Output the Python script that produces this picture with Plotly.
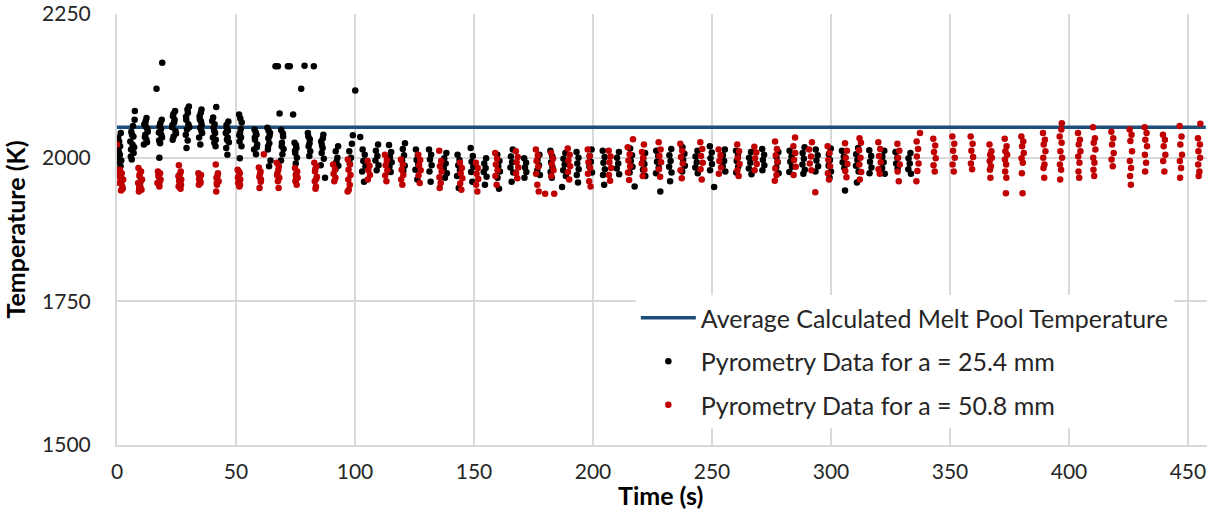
import plotly.graph_objects as go

# ---------------- data ----------------
# Average calculated melt pool temperature (horizontal reference line)
avg_time = [0.0, 457.5]
avg_temp = [2053, 2053]

# Pyrometry data for a = 25.4 mm (black), one inner list per measurement burst
black_time = [
    [1.6, 0.9, 0.4, 1.2, 0.2, 0.7, 1.5, 0.3, 0.9, 0.5, 1.3, 0.8, 1.8],
    [7.5, 7.4, 6.0, 6.9, 5.6, 6.5, 5.9, 7.0, 6.2, 6.7, 6.3, 7.2, 5.8],
    [12.4, 11.5, 12.8, 11.9, 12.3, 11.3, 12.9, 12.0, 11.7, 12.6, 12.2],
    [18.8, 17.9, 18.5, 17.6, 18.9, 18.1, 17.8, 16.6, 19.0, 18.2, 18.6, 17.7],
    [24.4, 23.5, 24.0, 23.2, 24.6, 23.8, 23.4, 23.7, 24.2, 23.3, 24.8],
    [30.2, 29.8, 29.1, 30.0, 29.4, 28.9, 29.7, 29.2, 29.6, 29.0, 30.4],
    [35.5, 34.7, 35.3, 34.9, 35.8, 34.5, 35.0, 35.2, 34.8, 35.6, 35.4],
    [41.7, 40.0, 40.6, 41.2, 40.3, 40.9, 41.4, 40.4, 41.0, 40.8, 41.5],
    [46.8, 46.1, 45.7, 46.5, 47.0, 45.9, 46.4, 46.0, 46.6, 46.2],
    [51.3, 52.4, 51.7, 52.1, 51.5, 52.3, 51.6, 51.8, 52.0, 51.4],
    [57.8, 58.6, 58.0, 58.9, 57.6, 58.4, 58.3, 57.9, 58.7],
    [63.2, 64.3, 63.6, 64.0, 63.4, 64.5, 63.9, 63.7, 64.1, 63.5],
    [69.0, 69.8, 69.3, 70.0, 69.5, 68.9, 68.3, 66.6, 67.6, 69.7, 69.2],
    [74.6, 75.4, 74.9, 75.6, 75.1, 74.0, 71.8, 72.6, 75.2, 74.8],
    [80.2, 81.0, 80.5, 81.2, 80.8, 78.8, 77.4, 80.4, 80.9],
    [86.7, 85.8, 86.4, 86.0, 86.9, 85.6, 87.4, 82.7, 86.5, 86.1],
    [92.9, 91.9, 92.6, 92.2, 93.0, 91.8],
    [99.1, 102.2, 98.7, 97.6, 98.3, 97.8, 100.1],
    [103.2, 104.1, 103.5, 104.4, 103.0, 103.8],
    [109.7, 108.8, 109.4, 108.6, 109.9, 109.1],
    [114.3, 115.2, 114.7, 115.4, 114.5, 115.0],
    [121.0, 120.1, 120.6, 119.8, 120.9, 120.3],
    [125.6, 126.4, 125.9, 126.6, 125.4, 126.2],
    [131.1, 132.0, 131.5, 132.2, 131.3, 131.8],
    [138.4, 137.5, 138.1, 137.3, 138.6, 137.8],
    [143.1, 143.9, 143.4, 144.1, 142.9, 143.6],
    [148.6, 149.5, 149.0, 149.7, 148.8, 149.3],
    [155.1, 154.3, 154.9, 154.1, 155.3, 154.6],
    [159.8, 160.7, 160.2, 160.9, 159.9, 160.5],
    [166.3, 165.5, 166.0, 165.3, 166.5, 165.8],
    [171.1, 171.9, 171.4, 172.0, 171.2],
    [177.5, 176.7, 177.3, 176.6, 177.7],
    [182.1, 182.9, 182.4, 183.0, 182.2, 182.7],
    [188.4, 187.6, 188.1, 187.5, 188.6, 187.0],
    [193.1, 193.9, 193.4, 194.0, 193.2, 193.7],
    [199.4, 198.6, 199.1, 198.5, 199.6],
    [204.1, 204.9, 204.4, 205.0, 204.2, 204.7],
    [210.9, 210.1, 210.6, 210.0, 211.0],
    [215.6, 216.4, 215.9, 216.6, 215.4, 217.5],
    [221.9, 221.1, 221.6, 221.0, 222.0],
    [226.6, 227.4, 226.9, 227.6, 226.5, 228.3],
    [232.9, 232.1, 232.6, 232.0, 233.0, 232.4],
    [237.6, 238.4, 237.9, 238.6, 237.5],
    [243.9, 243.1, 243.6, 243.0, 244.0],
    [249.1, 249.9, 249.4, 250.0, 249.2, 250.9],
    [255.4, 254.6, 255.1, 254.5, 255.6],
    [260.1, 260.9, 260.4, 261.0, 260.2],
    [266.4, 265.6, 266.1, 265.5, 266.6],
    [271.1, 271.9, 271.4, 272.0, 271.2],
    [277.9, 277.1, 277.6, 277.0, 278.0],
    [282.6, 283.4, 282.9, 283.6, 282.5],
    [288.9, 288.1, 288.6, 288.0, 289.0, 288.4],
    [293.6, 294.4, 293.9, 294.6, 293.5],
    [299.9, 299.1, 299.6, 299.0, 300.0, 299.4],
    [304.6, 305.4, 304.9, 305.6, 305.9],
    [311.4, 310.6, 311.1, 310.5, 311.6, 310.9],
    [316.1, 316.9, 316.4, 317.0, 316.2],
    [322.4, 321.6, 322.1, 321.5, 322.6],
    [327.1, 327.9, 327.4, 328.0],
    [333.4, 332.6, 333.1, 332.5, 333.6],
]
black_temp = [
    [2043, 2028, 2015, 2005, 1998, 1992, 1985, 1978, 1972, 2035, 2020, 2010, 1995],
    [2081, 2066, 2045, 2037, 2028, 2023, 2014, 2008, 1997, 2055, 2040, 2018, 2002],
    [2069, 2058, 2050, 2040, 2032, 2023, 2045, 2063, 2036, 2027, 2054],
    [2066, 2055, 2050, 2044, 2035, 2025, 2000, 2120, 2165, 2060, 2040, 2030],
    [2081, 2072, 2061, 2053, 2046, 2037, 2031, 2076, 2066, 2057, 2042],
    [2089, 2078, 2066, 2058, 2049, 2040, 2030, 2017, 2084, 2071, 2053],
    [2084, 2072, 2063, 2052, 2043, 2035, 2023, 2078, 2067, 2057, 2047],
    [2088, 2064, 2052, 2043, 2035, 2026, 2020, 2070, 2058, 2047, 2031],
    [2063, 2052, 2043, 2035, 2027, 2017, 2005, 2057, 2047, 2031],
    [2075, 2061, 2043, 2035, 2028, 2020, 1999, 2068, 2050, 2039],
    [2049, 2040, 2031, 2023, 2014, 2006, 2044, 2035, 2018],
    [2052, 2043, 2034, 2025, 2014, 1995, 1985, 2047, 2038, 2020],
    [2048, 2037, 2026, 2015, 2006, 1995, 2077, 2159, 2159, 2042, 2020],
    [2026, 2017, 2008, 2000, 1990, 2075, 2159, 2159, 2022, 2012],
    [2043, 2032, 2020, 2011, 2003, 2160, 2120, 2037, 2025],
    [2040, 2028, 2017, 2008, 1998, 1987, 1965, 2159, 2034, 2022],
    [2020, 2011, 2000, 1993, 1986, 1980],
    [2039, 2036, 2024, 2011, 2000, 1990, 2117],
    [2014, 2005, 1994, 1985, 1976, 1958],
    [2023, 2012, 2003, 1995, 1987, 1978],
    [2022, 2010, 2001, 1992, 1984, 1975],
    [2025, 2015, 2004, 1995, 1986, 1977],
    [2014, 2004, 1996, 1988, 1979, 1962],
    [2014, 2005, 1997, 1987, 1976, 1958],
    [2008, 1999, 1990, 1981, 1973, 1965],
    [2005, 1996, 1987, 1978, 1968, 1947],
    [2017, 2003, 1993, 1984, 1975, 1958],
    [1999, 1990, 1982, 1975, 1967, 1953],
    [2005, 1994, 1985, 1976, 1965, 1946],
    [2014, 2002, 1992, 1983, 1974, 1958],
    [1999, 1991, 1983, 1975, 1965],
    [2005, 1996, 1987, 1978, 1970],
    [2012, 2002, 1992, 1983, 1975, 1965],
    [2008, 1998, 1988, 1978, 1968, 1949],
    [2010, 2000, 1990, 1980, 1970, 1957],
    [2014, 2003, 1993, 1984, 1974],
    [2012, 2001, 1991, 1980, 1970, 1953],
    [2010, 2000, 1990, 1981, 1971],
    [2016, 2004, 1994, 1984, 1974, 1950],
    [2008, 1998, 1989, 1979, 1968],
    [2012, 2003, 1993, 1983, 1973, 1941],
    [2015, 2004, 1994, 1984, 1974, 1959],
    [2018, 2007, 1996, 1986, 1976],
    [2012, 2002, 1992, 1983, 1973],
    [2020, 2009, 1999, 1989, 1978, 1949],
    [2014, 2004, 1994, 1985, 1976],
    [2012, 2003, 1994, 1984, 1974],
    [2010, 2000, 1991, 1981, 1971],
    [2015, 2005, 1996, 1987, 1978],
    [2010, 2001, 1992, 1983, 1973],
    [2012, 2002, 1993, 1984, 1975],
    [2018, 2008, 1998, 1988, 1979, 1972],
    [2014, 2004, 1995, 1985, 1976],
    [2016, 2006, 1996, 1986, 1976, 1965],
    [2012, 2002, 1992, 1982, 1943],
    [2017, 2006, 1996, 1986, 1976, 1957],
    [2013, 2003, 1993, 1983, 1973],
    [2012, 2002, 1992, 1982, 1972],
    [2010, 2000, 1990, 1981],
    [2008, 1999, 1990, 1980, 1972],
]

# Pyrometry data for a = 50.8 mm (red)
red_time = [
    [0.0, 1.2, 2.0, 1.5, 2.6, 1.0, 2.2, 1.7, 1.0, 1.9, 2.4, 1.4],
    [9.0, 10.1, 9.4, 10.5, 8.9, 9.8, 10.3, 9.2, 9.6, 10.0, 9.3],
    [17.2, 18.1, 17.5, 18.3, 17.0, 17.8, 17.4, 18.0, 17.7],
    [26.0, 26.8, 25.8, 27.0, 26.4, 25.9, 26.7, 26.5, 26.1, 26.9],
    [34.2, 35.3, 34.6, 35.0, 34.4, 34.9, 34.5, 35.1],
    [41.5, 42.4, 41.8, 42.7, 42.0, 41.7, 42.2, 41.9],
    [50.7, 51.6, 51.0, 51.8, 50.9, 51.4, 51.2, 50.8, 51.7],
    [61.7, 59.6, 60.3, 59.8, 60.5, 59.9, 60.1, 60.4],
    [67.1, 68.0, 67.4, 68.2, 67.6, 67.9, 67.8, 67.3],
    [74.8, 75.7, 75.1, 75.9, 75.0, 75.5, 75.4, 75.2],
    [82.9, 83.8, 83.2, 84.0, 83.1, 83.6, 83.4, 83.3, 83.7],
    [90.8, 91.6, 91.0, 91.8, 91.3],
    [97.0, 97.9, 97.3, 98.1, 97.2, 97.8, 97.4, 96.9],
    [105.3, 106.1, 105.6, 106.3, 105.4],
    [112.6, 113.4, 112.9, 113.6, 112.7, 113.2],
    [119.3, 120.1, 119.6, 120.3, 119.4, 119.9],
    [126.6, 127.4, 126.9, 127.6, 126.7, 127.2],
    [135.4, 136.2, 135.7, 136.4, 135.5, 136.0, 135.6],
    [144.1, 144.9, 144.4, 145.1, 144.2, 144.7],
    [150.8, 151.6, 151.1, 151.8, 150.9, 151.4],
    [158.9, 159.7, 159.2, 159.9, 159.0, 159.5],
    [167.6, 168.4, 167.9, 168.6, 167.7, 168.2],
    [176.0, 176.8, 176.3, 177.0, 176.1, 176.6, 177.2, 179.9],
    [182.4, 183.2, 182.7, 183.4, 182.5, 183.7],
    [189.4, 190.2, 189.7, 190.4, 189.5, 190.0],
    [197.8, 198.6, 198.1, 198.8, 197.9, 198.4, 199.0],
    [206.6, 207.4, 206.9, 207.6, 206.7, 207.2],
    [216.8, 214.6, 215.4, 214.9, 215.6, 214.7, 215.2],
    [221.4, 220.6, 221.1, 220.5, 221.6, 220.9],
    [227.6, 228.4, 227.9, 228.6, 227.7, 228.2],
    [236.7, 237.5, 237.0, 237.7, 236.8, 237.3],
    [245.1, 245.9, 245.4, 246.1, 245.2, 245.7],
    [252.8, 253.6, 253.1, 253.8, 252.9],
    [260.6, 261.4, 260.9, 261.6, 260.7, 261.2],
    [267.8, 268.6, 268.1, 268.8, 267.9],
    [276.5, 277.3, 276.8, 277.5, 276.6, 277.1, 276.4],
    [284.9, 284.2, 285.0, 284.5, 285.2, 284.3],
    [292.0, 290.8, 291.6, 291.1, 291.8, 293.4],
    [298.6, 299.4, 298.9, 299.6, 298.7, 299.2],
    [305.9, 306.7, 306.2, 306.9, 306.0, 306.5],
    [312.0, 312.6, 311.8, 312.4, 311.9, 312.7, 312.1],
    [319.9, 320.7, 320.2, 320.9, 320.0, 320.5],
    [327.9, 328.7, 328.2, 328.9, 328.0, 328.5],
    [337.4, 336.0, 336.6, 336.1, 336.8, 336.3, 335.9],
    [343.0, 343.8, 343.3, 344.0, 343.1, 343.6],
    [351.0, 351.8, 351.3, 352.0, 351.1, 351.6],
    [358.7, 359.5, 359.0, 359.7, 358.8, 359.3],
    [366.6, 367.4, 366.9, 367.6, 366.7, 367.2, 366.8, 367.0],
    [373.0, 373.8, 373.3, 374.0, 373.1, 373.6, 373.2, 373.7, 373.5],
    [380.0, 380.8, 380.3, 381.0, 380.1, 380.6, 380.2, 380.5],
    [389.1, 389.9, 389.4, 390.1, 389.2, 389.7, 389.3, 389.6],
    [397.0, 396.8, 396.1, 396.9, 396.4, 397.1, 396.2, 396.7, 396.3],
    [403.8, 404.6, 404.1, 404.8, 403.9, 404.4, 404.0, 404.3],
    [410.1, 410.9, 410.4, 411.1, 410.2, 410.7, 410.3, 410.6],
    [417.8, 418.6, 418.1, 418.8, 417.9, 418.4],
    [425.5, 426.3, 425.8, 426.5, 425.6, 426.1, 425.7, 426.0],
    [431.8, 432.6, 432.1, 432.8, 431.9, 432.4, 432.0],
    [439.5, 440.3, 439.8, 440.5, 439.6, 440.1],
    [446.5, 447.3, 446.8, 447.5, 446.6, 447.1, 446.7],
    [455.2, 454.2, 455.0, 454.4, 455.1, 454.3, 454.8, 454.5],
]
red_temp = [
    [2023, 1979, 1973, 1967, 1962, 1956, 1950, 1943, 1970, 1958, 1946, 1965],
    [1982, 1976, 1968, 1962, 1956, 1950, 1944, 1941, 1972, 1959, 1947],
    [1976, 1973, 1967, 1962, 1956, 1950, 1970, 1959, 1953],
    [1987, 1976, 1968, 1962, 1956, 1950, 1946, 1972, 1960, 1953],
    [1973, 1970, 1965, 1959, 1953, 1968, 1962, 1956],
    [1988, 1973, 1965, 1959, 1953, 1941, 1968, 1956],
    [1979, 1973, 1967, 1962, 1956, 1950, 1976, 1965, 1953],
    [2006, 1983, 1976, 1967, 1962, 1947, 1972, 1958],
    [1991, 1985, 1973, 1965, 1959, 1947, 1979, 1969],
    [1982, 1976, 1970, 1965, 1959, 1953, 1973, 1962],
    [1991, 1985, 1976, 1967, 1959, 1950, 1946, 1980, 1963],
    [1988, 1980, 1972, 1965, 1959],
    [1997, 1988, 1979, 1970, 1962, 1953, 1944, 1941],
    [1994, 1986, 1978, 1970, 1962],
    [2005, 1996, 1987, 1978, 1969, 1959],
    [1997, 1988, 1979, 1970, 1962, 1953],
    [2005, 1996, 1987, 1978, 1969, 1956],
    [2012, 1994, 1985, 1976, 1966, 1956, 1947],
    [1991, 1982, 1973, 1964, 1955, 1944],
    [1991, 1982, 1972, 1963, 1953, 1941],
    [2008, 1998, 1988, 1978, 1968, 1953],
    [2011, 2001, 1992, 1983, 1973, 1964],
    [2014, 2004, 1994, 1984, 1972, 1953, 1941, 1937],
    [2008, 1998, 1988, 1978, 1968, 1937],
    [2016, 2005, 1995, 1985, 1975, 1962],
    [2014, 2003, 1992, 1982, 1972, 1959, 1950],
    [2012, 2002, 1992, 1982, 1970, 1960],
    [2032, 2018, 2006, 1995, 1985, 1974, 1961],
    [2023, 2010, 2000, 1990, 1979, 1968],
    [2027, 2014, 2003, 1992, 1980, 1967],
    [2024, 2012, 2001, 1990, 1978, 1964],
    [2027, 2015, 2003, 1991, 1980, 1962],
    [2014, 2004, 1994, 1983, 1972],
    [2023, 2011, 2000, 1989, 1978, 1968],
    [2019, 2009, 1999, 1989, 1978],
    [2028, 2015, 2004, 1993, 1981, 1970, 1960],
    [2035, 2020, 2008, 1996, 1984, 1970],
    [2027, 2014, 2002, 1990, 1978, 1940],
    [2020, 2008, 1996, 1985, 1973, 1962],
    [2025, 2012, 2000, 1989, 1977, 1966],
    [2034, 2026, 2013, 2000, 1988, 1975, 1962],
    [2027, 2015, 2003, 1992, 1980, 1972],
    [2024, 2012, 2000, 1988, 1976, 1959],
    [2043, 2028, 2015, 2002, 1990, 1977, 1959],
    [2033, 2021, 2010, 1999, 1987, 1976],
    [2037, 2024, 2012, 2000, 1988, 1976],
    [2037, 2024, 2012, 2001, 1990, 1980],
    [2023, 2011, 2005, 2000, 1994, 1985, 1979, 1965],
    [2033, 2020, 2011, 2005, 1997, 1988, 1976, 1965, 1938],
    [2037, 2028, 2020, 2008, 1999, 1991, 1973, 1938],
    [2043, 2031, 2023, 2011, 2000, 1988, 1982, 1965],
    [2060, 2049, 2037, 2026, 2011, 2000, 1988, 1979, 1962],
    [2043, 2031, 2023, 2011, 2002, 1991, 1976, 1965],
    [2053, 2034, 2026, 2014, 2000, 1991, 1979, 1968],
    [2045, 2034, 2023, 2008, 1997, 1985],
    [2049, 2040, 2029, 2011, 1994, 1982, 1968, 1953],
    [2053, 2043, 2031, 2020, 2005, 1991, 1976],
    [2040, 2031, 2020, 2005, 1994, 1976],
    [2055, 2037, 2023, 2005, 1994, 1982, 1965],
    [2059, 2034, 2023, 2011, 2000, 1988, 1976, 1968],
]

x_ticks = [0, 50, 100, 150, 200, 250, 300, 350, 400, 450]
y_ticks = [1500, 1750, 2000, 2250]

series_names = [
    "Average Calculated Melt Pool Temperature",
    "Pyrometry Data for a = 25.4 mm",
    "Pyrometry Data for a = 50.8 mm",
]
x_title = "Time (s)"
y_title = "Temperature (K)"


def flat(groups):
    return [v for g in groups for v in g]


FONT = "Lato, Calibri, 'Open Sans', sans-serif"
GRID = "#d9d9d9"
TXT = "#262626"

fig = go.Figure()
fig.add_trace(go.Scatter(
    x=avg_time, y=avg_temp, mode="lines", name=series_names[0],
    line=dict(color="#1F4E79", width=3.5), legendgroup="a",
))
fig.add_trace(go.Scatter(
    x=flat(black_time), y=flat(black_temp), mode="markers", name=series_names[1],
    marker=dict(color="#000000", size=6.5), legendgroup="b",
))
fig.add_trace(go.Scatter(
    x=flat(red_time), y=flat(red_temp), mode="markers", name=series_names[2],
    marker=dict(color="#C00000", size=6.5), legendgroup="c",
))

fig.update_layout(
    width=1212, height=511,
    margin=dict(l=117, r=5, t=14, b=66),
    paper_bgcolor="white", plot_bgcolor="white",
    font=dict(family=FONT, size=21, color=TXT),
    showlegend=True,
    legend=dict(
        x=0.476, y=0.348, xanchor="left", yanchor="top",
        bgcolor="white", borderwidth=0,
        font=dict(family=FONT, size=25, color=TXT),
        tracegroupgap=8, traceorder="grouped", itemwidth=55,
    ),
    annotations=[dict(
        text="<b>" + x_title + "</b>", xref="paper", yref="paper",
        x=0.499, y=0, yshift=-50, xanchor="center", yanchor="middle",
        showarrow=False, font=dict(family=FONT, size=25, color="#000000"),
    )],
)
fig.update_xaxes(
    range=[0, 458], tickvals=x_ticks, ticktext=[str(v) for v in x_ticks],
    showgrid=True, gridcolor=GRID, gridwidth=2,
    showline=True, linecolor=GRID, linewidth=2, zeroline=False,
    ticks="", tickfont=dict(size=21, color=TXT), ticklabelstandoff=7,
    ticklabeloverflow="allow", automargin=False,
)
fig.update_yaxes(
    range=[1500, 2250], tickvals=y_ticks, ticktext=[str(v) for v in y_ticks],
    showgrid=True, gridcolor=GRID, gridwidth=2,
    showline=True, linecolor=GRID, linewidth=2, zeroline=False,
    ticks="", tickfont=dict(size=21, color=TXT), ticklabelstandoff=20,
    ticklabeloverflow="allow", automargin=False,
    title=dict(text="<b>" + y_title + "</b>", font=dict(size=25, color="#000000"), standoff=9),
)

# Remove the browser's default 8px body margin so the figure fills the window exactly.
fig.write_html(
    "out.html",
    config={"displayModeBar": False},
    post_script="document.body.style.margin='0';",
)
